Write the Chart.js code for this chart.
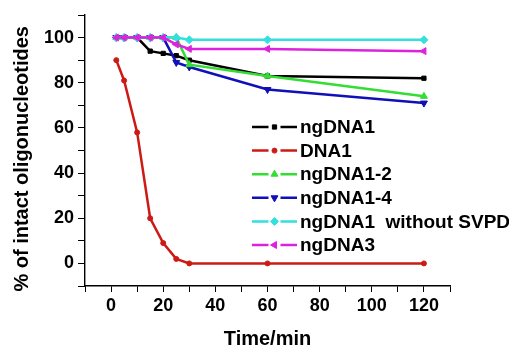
<!DOCTYPE html>
<html>
<head>
<meta charset="utf-8">
<script src="https://cdn.jsdelivr.net/npm/chart.js@4.4.0/dist/chart.umd.min.js"></script>
<style>
  html, body { margin: 0; padding: 0; background: #fff; }
  #wrap { width: 509px; height: 346px; position: relative; }
</style>
</head>
<body>
<div id="wrap"><canvas id="myChart"></canvas></div>
<script>
// data
var times = [2, 5, 10, 15, 20, 25, 30, 60, 120];
var ngDNA1 = [100, 100, 100, 94, 93, 92, 90, 83, 82];
var DNA1 = [90, 81, 58, 20, 9, 2, 0, 0, 0];
var ngDNA1_2 = [100, 100, 100, 100, 100, 100, 88, 83, 74];
var ngDNA1_4 = [100, 100, 100, 100, 100, 89, 87, 77, 71];
var ngDNA1_noSVPD = [100, 100, 100, 100, 100, 100, 99, 99, 99];
var ngDNA3 = [100, 100, 100, 100, 100, 97, 95, 95, 94];

var seriesNames = ['ngDNA1', 'DNA1', 'ngDNA1-2', 'ngDNA1-4', 'ngDNA1  without SVPD', 'ngDNA3'];
var xTickLabels = [0, 20, 40, 60, 80, 100, 120];
var yTickLabels = [0, 20, 40, 60, 80, 100];

var FONT = '"Liberation Sans", Arial, sans-serif';

function pts(vals) {
    return vals.map(function (v, i) { return { x: times[i], y: v }; });
}

function makeSet(name, vals, color, style, rot, radius, order) {
    return {
        label: name,
        data: pts(vals),
        borderColor: color,
        backgroundColor: color,
        borderWidth: 2.5,
        pointStyle: style,
        rotation: rot,
        pointRadius: radius,
        pointBorderWidth: 1,
        order: order,
        tension: 0
    };
}

var sets = [
    makeSet(seriesNames[0], ngDNA1, '#000000', 'rect', 0, 3, 5),
    makeSet(seriesNames[1], DNA1, '#cc1a14', 'circle', 0, 2.5, 6),
    makeSet(seriesNames[2], ngDNA1_2, '#33dd33', 'triangle', 0, 4, 3),
    makeSet(seriesNames[3], ngDNA1_4, '#1010b8', 'triangle', 180, 4, 4),
    makeSet(seriesNames[4], ngDNA1_noSVPD, '#33e0e0', 'rectRot', 0, 4, 2),
    makeSet(seriesNames[5], ngDNA3, '#dd22dd', 'triangle', 270, 4, 1)
];

// legend drawn inside the plot, line - marker - line
var innerLegend = {
    id: 'innerLegend',
    afterDraw: function (chart) {
        var ctx = chart.ctx;
        var x0 = 252, x1 = 297, y0 = 127, step = 23.6;
        ctx.save();
        chart.data.datasets.forEach(function (ds, i) {
            var y = y0 + i * step;
            var mid = (x0 + x1) / 2;
            ctx.strokeStyle = ds.borderColor;
            ctx.fillStyle = ds.borderColor;
            ctx.lineWidth = 2.5;
            ctx.beginPath();
            ctx.moveTo(x0, y); ctx.lineTo(mid - 6, y);
            ctx.moveTo(mid + 6, y); ctx.lineTo(x1, y);
            ctx.stroke();
            ctx.lineWidth = 1;
            Chart.helpers.drawPoint(ctx, {
                pointStyle: ds.pointStyle,
                rotation: ds.rotation,
                radius: ds.pointRadius,
                borderWidth: 1
            }, mid, y);
            ctx.fillStyle = '#000';
            ctx.font = 'bold 19px ' + FONT;
            ctx.textBaseline = 'middle';
            ctx.textAlign = 'left';
            ctx.fillText(ds.label, x1 + 3, y + 1);
        });
        ctx.restore();
    }
};

var ctx = document.getElementById('myChart').getContext('2d');
var myChart = new Chart(ctx, {
    type: 'line',
    data: { datasets: sets },
    plugins: [innerLegend],
    options: {
        responsive: true,
        maintainAspectRatio: false,
        animation: false,
        layout: { padding: { top: 15, right: 59, left: 0, bottom: 0 } },
        plugins: {
            legend: { display: false },
            tooltip: { enabled: false }
        },
        scales: {
            x: {
                type: 'linear',
                min: -10,
                max: 130,
                afterFit: function (s) { s.height = 60; },
                afterBuildTicks: function (s) {
                    var t = [];
                    for (var v = -10; v <= 130; v += 10) t.push({ value: v });
                    s.ticks = t;
                },
                ticks: {
                    autoSkip: false,
                    maxRotation: 0,
                    padding: 3,
                    color: '#000',
                    font: { family: FONT, size: 18, weight: 'bold' },
                    callback: function (v) { return xTickLabels.indexOf(v) >= 0 ? String(v) : ''; }
                },
                grid: {
                    drawOnChartArea: false,
                    drawTicks: true,
                    tickLength: 6,
                    tickColor: '#000',
                    tickWidth: 1
                },
                border: { display: true, color: '#000', width: 1.4 },
                title: {
                    display: true,
                    text: 'Time/min',
                    color: '#000',
                    font: { family: FONT, size: 20, weight: 'bold', lineHeight: 1.2 },
                    padding: { top: 0, bottom: -5 }
                }
            },
            y: {
                min: -10,
                max: 110,
                afterFit: function (s) { s.width = 85; },
                afterBuildTicks: function (s) {
                    var t = [];
                    for (var v = -10; v <= 110; v += 10) t.push({ value: v });
                    s.ticks = t;
                },
                ticks: {
                    autoSkip: false,
                    padding: 4,
                    color: '#000',
                    font: { family: FONT, size: 18, weight: 'bold' },
                    callback: function (v) { return yTickLabels.indexOf(v) >= 0 ? String(v) : ''; }
                },
                grid: {
                    drawOnChartArea: false,
                    drawTicks: true,
                    tickLength: 7,
                    tickColor: '#000',
                    tickWidth: 1
                },
                border: { display: true, color: '#000', width: 1.4 },
                title: {
                    display: true,
                    text: '% of intact oligonucleotides   ',
                    color: '#000',
                    font: { family: FONT, size: 20, weight: 'bold', lineHeight: 1.2 },
                    padding: { top: 10, bottom: 0 }
                }
            }
        }
    }
});
</script>
</body>
</html>
